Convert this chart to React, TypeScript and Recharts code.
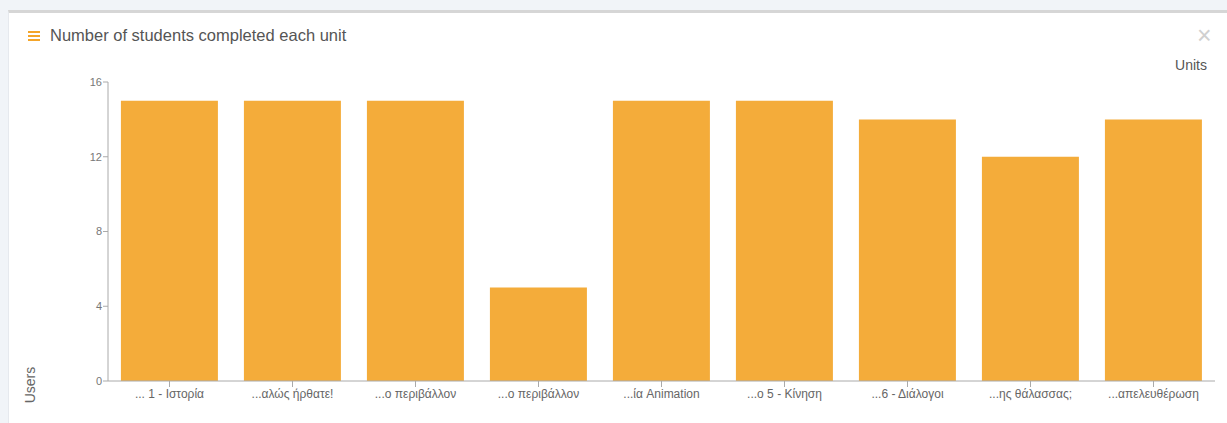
import React from "react"
import { BarChart, Bar, XAxis, YAxis, Label } from "recharts"

// Units as shown on the axis (names are truncated in the original)
const units = [
  "... 1 - Ιστορία",
  "...αλώς ήρθατε!",
  "...ο περιβάλλον",
  "...ο περιβάλλον ",
  "...ία Animation",
  "...ο 5 - Κίνηση",
  "...6 - Διάλογοι",
  "...ης θάλασσας;",
  "...απελευθέρωση",
]
const completed = [15, 15, 15, 5, 15, 15, 14, 12, 14]
const yTicks = [0, 4, 8, 12, 16]

const data = units.map((name, i) => ({ name, users: completed[i] }))

const FONT = '"Liberation Sans", Arial, sans-serif'
const AXIS = "#aaa"

export default function App() {
  return (
    <div
      style={{
        position: "fixed",
        left: 0,
        top: 0,
        width: 1227,
        height: 423,
        background: "#f1f4f8",
        fontFamily: FONT,
        overflow: "hidden",
      }}
    >
      {/* panel */}
      <div
        style={{
          position: "absolute",
          left: 8,
          top: 10,
          width: 1230,
          height: 420,
          background: "#fff",
          borderTop: "3px solid #d6d6d6",
          borderLeft: "1px solid #e6e9ee",
        }}
      />
      {/* hamburger icon */}
      <div style={{ position: "absolute", left: 28, top: 31, width: 12 }}>
        {[0, 4, 8].map((t) => (
          <div key={t} style={{ position: "absolute", top: t, width: 12, height: 2, background: "#f4a52a" }} />
        ))}
      </div>
      <div style={{ position: "absolute", left: 50, top: 26, fontSize: 16.5, color: "#555" }}>
        Number of students completed each unit
      </div>
      <div style={{ position: "absolute", left: 1197, top: 23, fontSize: 25, color: "#d0d0d0", lineHeight: "25px" }}>
        ×
      </div>

      <div style={{ position: "absolute", left: 0, top: 0 }}>
        <BarChart
          width={1227}
          height={423}
          data={data}
          margin={{ top: 82, right: 12, bottom: 0, left: 0 }}
          barCategoryGap="10.5%"
        >
          <XAxis
            dataKey="name"
            height={42}
            interval={0}
            stroke={AXIS}
            tickSize={6}
            tickMargin={2}
            tick={{ fill: "#666", fontSize: 12, fontFamily: FONT }}
          />
          <YAxis
            width={108}
            domain={[0, 16]}
            ticks={yTicks}
            stroke={AXIS}
            tickSize={5}
            tickMargin={1}
            tick={{ fill: "#777", fontSize: 11, fontFamily: FONT }}
          >
            <Label
              value="Users"
              content={() => (
                <text x={35} y={385} transform="rotate(-90 35 385)" textAnchor="middle" fill="#666" fontSize={14} fontFamily={FONT}>
                  Users
                </text>
              )}
            />
          </YAxis>
          <Bar dataKey="users" fill="#f4ac3a" isAnimationActive={false} />
          <text x={1207} y={70} textAnchor="end" fill="#555" fontSize={14} fontFamily={FONT}>
            Units
          </text>
        </BarChart>
      </div>
    </div>
  )
}
